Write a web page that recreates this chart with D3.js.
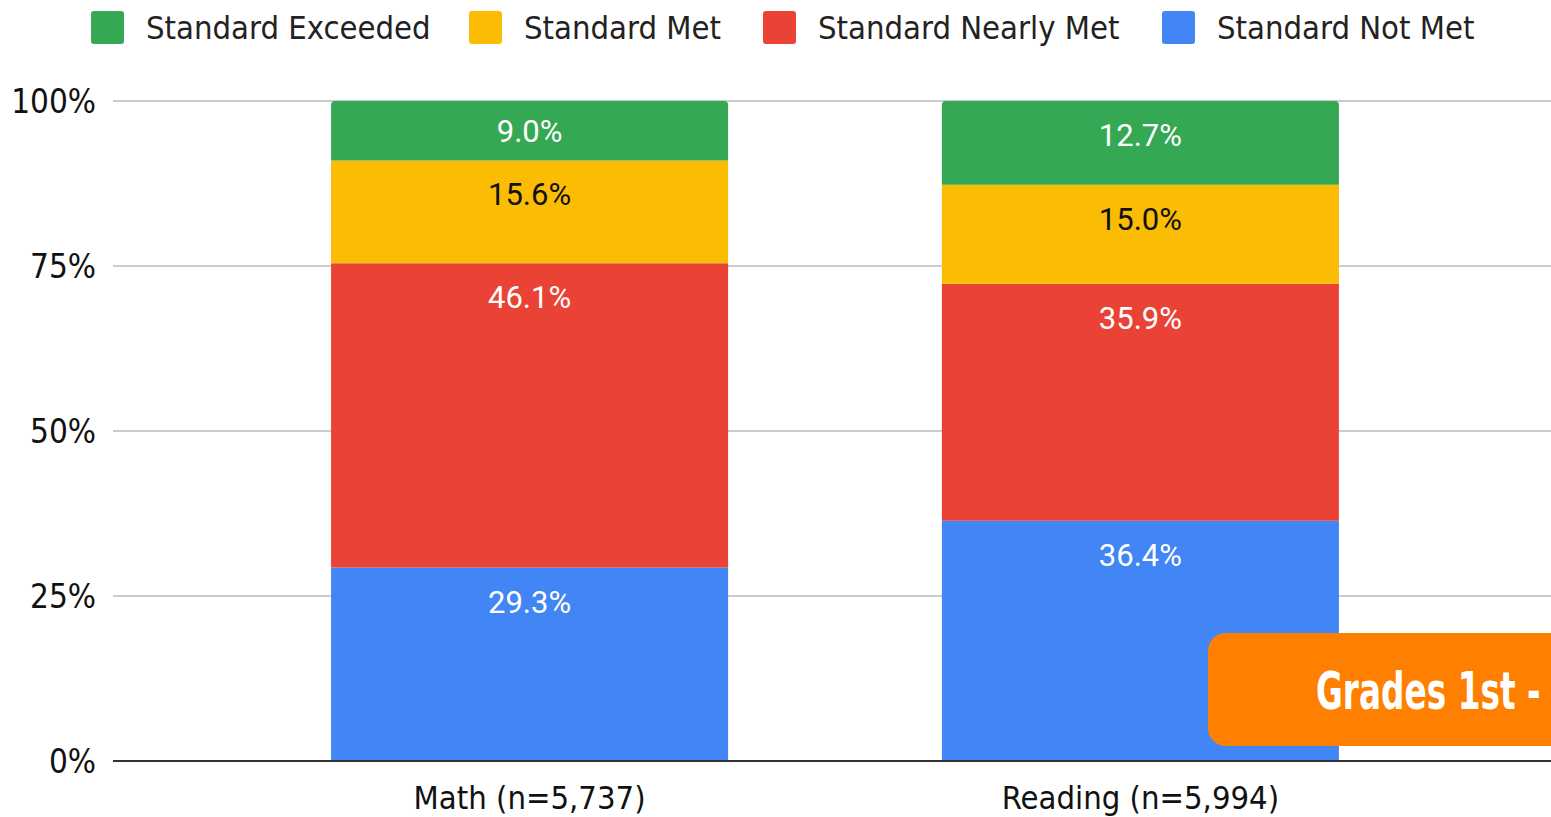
<!DOCTYPE html>
<html>
<head>
<meta charset="utf-8">
<script src="https://cdn.jsdelivr.net/npm/d3@7"></script>
<style>
  body { margin: 0; background: #fff; overflow: hidden; }
  svg { display: block; }
</style>
</head>
<body>
<div id="chart"></div>
<script>
const W = 1551;
const H = 817;

// data
const subjects = ["Math (n=5,737)", "Reading (n=5,994)"];
const seriesNames = ["Standard Not Met", "Standard Nearly Met", "Standard Met", "Standard Exceeded"];
const notMet = [29.3, 36.4];
const nearlyMet = [46.1, 35.9];
const met = [15.6, 15.0];
const exceeded = [9.0, 12.7];
const yTicks = [0, 25, 50, 75, 100];
const legendOrder = ["Standard Exceeded", "Standard Met", "Standard Nearly Met", "Standard Not Met"];

const colors = {
  "Standard Not Met": "#4285F4",
  "Standard Nearly Met": "#EA4335",
  "Standard Met": "#FBBC04",
  "Standard Exceeded": "#34A853"
};
const labelColors = {
  "Standard Not Met": "#fff",
  "Standard Nearly Met": "#fff",
  "Standard Met": "#111",
  "Standard Exceeded": "#fff"
};

// table for d3.stack
const rows = subjects.map((s, i) => ({
  subject: s,
  "Standard Not Met": notMet[i],
  "Standard Nearly Met": nearlyMet[i],
  "Standard Met": met[i],
  "Standard Exceeded": exceeded[i]
}));
const stacked = d3.stack().keys(seriesNames)(rows);

const svg = d3.select("#chart")
  .append("svg")
  .attr("width", W)
  .attr("height", H);

// scales
const x = d3.scaleBand()
  .domain(subjects)
  .range([113, 1557])
  .paddingInner(0.35)
  .paddingOuter(0.357);

const y = d3.scaleLinear()
  .domain([0, 100])
  .range([761, 101]);

const axisFont = "'DejaVu Sans Condensed', 'DejaVu Sans', sans-serif";

// gridlines
svg.append("g")
  .selectAll("line")
  .data(yTicks.filter(t => t > 0))
  .enter()
  .append("line")
  .attr("x1", 113)
  .attr("x2", W)
  .attr("y1", d => y(d))
  .attr("y2", d => y(d))
  .attr("stroke", "#cccccc")
  .attr("stroke-width", 2);

// y axis labels
svg.append("g")
  .selectAll("text")
  .data(yTicks)
  .enter()
  .append("text")
  .attr("x", 96)
  .attr("y", d => y(d) + 12)
  .attr("text-anchor", "end")
  .attr("font-family", axisFont)
  .attr("font-size", 33)
  .attr("fill", "#111")
  .text(d => d + "%");

// bars (top segment gets rounded corners)
const radius = 4;
function segPath(x0, y0, w, h, rounded) {
  if (!rounded) return `M${x0},${y0}h${w}v${h}h${-w}Z`;
  const r = Math.min(radius, h);
  return `M${x0},${y0 + h}V${y0 + r}Q${x0},${y0} ${x0 + r},${y0}H${x0 + w - r}Q${x0 + w},${y0} ${x0 + w},${y0 + r}V${y0 + h}Z`;
}

const layers = svg.append("g")
  .selectAll("g")
  .data(stacked)
  .enter()
  .append("g")
  .attr("fill", d => colors[d.key]);

layers.selectAll("path")
  .data(d => d.map(p => ({ key: d.key, p: p })))
  .enter()
  .append("path")
  .attr("d", d => segPath(
    x(d.p.data.subject), y(d.p[1]), x.bandwidth(), y(d.p[0]) - y(d.p[1]),
    d.key === "Standard Exceeded"));

// data labels
layers.selectAll("text")
  .data(d => d.map(p => ({ key: d.key, p: p })))
  .enter()
  .append("text")
  .attr("x", d => x(d.p.data.subject) + x.bandwidth() / 2)
  .attr("y", d => {
    const top = y(d.p[1]);
    const h = y(d.p[0]) - top;
    return top + Math.min(34, h / 2) + 11;
  })
  .attr("text-anchor", "middle")
  .attr("font-family", "Roboto, sans-serif")
  .attr("font-size", 31)
  .attr("fill", d => labelColors[d.key])
  .text(d => (d.p[1] - d.p[0]).toFixed(1) + "%");

// baseline
svg.append("line")
  .attr("x1", 113)
  .attr("x2", W)
  .attr("y1", y(0))
  .attr("y2", y(0))
  .attr("stroke", "#333")
  .attr("stroke-width", 2);

// x axis labels
svg.append("g")
  .selectAll("text")
  .data(subjects)
  .enter()
  .append("text")
  .attr("x", d => x(d) + x.bandwidth() / 2)
  .attr("y", 809)
  .attr("text-anchor", "middle")
  .attr("font-family", axisFont)
  .attr("font-size", 32.5)
  .attr("fill", "#111")
  .text(d => d);

// legend
const legendX = [91, 469, 763, 1162];
const legend = svg.append("g")
  .selectAll("g")
  .data(legendOrder)
  .enter()
  .append("g")
  .attr("transform", (d, i) => "translate(" + legendX[i] + ",11)");

legend.append("rect")
  .attr("width", 33)
  .attr("height", 33)
  .attr("rx", 3)
  .attr("fill", d => colors[d]);

legend.append("text")
  .attr("x", 55)
  .attr("y", 28)
  .attr("font-family", axisFont)
  .attr("font-size", 32.5)
  .attr("fill", "#222")
  .text(d => d);

// orange badge (runs off the right edge, as in the original)
svg.append("rect")
  .attr("x", 1208)
  .attr("y", 633)
  .attr("width", 400)
  .attr("height", 113)
  .attr("rx", 18)
  .attr("fill", "#FF8000");

svg.append("text")
  .attr("transform", "translate(1316,709) scale(0.7,1)")
  .attr("font-family", "'DejaVu Sans Condensed', 'DejaVu Sans', sans-serif")
  .attr("font-weight", "bold")
  .attr("font-size", 52)
  .attr("fill", "#fff")
  .text("Grades 1st - 8th");
</script>
</body>
</html>
